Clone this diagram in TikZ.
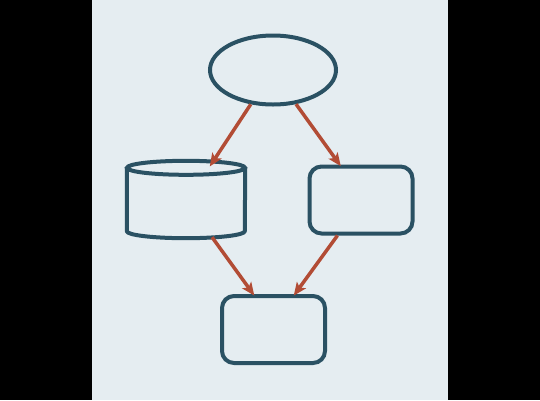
\documentclass[tikz,border=0pt]{standalone}
\usetikzlibrary{arrows.meta,calc,shapes.geometric}
\definecolor{panel}{HTML}{E5EDF1}
\definecolor{stroke}{HTML}{2A5163}
\definecolor{arr}{HTML}{B24C35}
\tikzset{
  shp/.style={draw=stroke, line width=4pt, fill=panel},
  rbox/.style={shp, rectangle, rounded corners=12pt, minimum width=103pt, minimum height=67pt, inner sep=0pt},
  conn/.style={draw=arr, line width=3.5pt, -{Stealth[length=13pt,width=11pt,inset=3pt]}, shorten >=-2pt}
}
\begin{document}
\begin{tikzpicture}[x=1pt,y=-1pt]
\fill[black] (0,0) rectangle (540,400);
\fill[panel] (92,0) rectangle (448,400);
\useasboundingbox (0,0) rectangle (540,400);
% ellipse
\node[shp, ellipse, inner sep=0pt, minimum width=126pt, minimum height=69pt] (e) at (273,70) {};
% cylinder
\node[inner sep=0pt, minimum width=118pt, minimum height=63pt] (c) at (186,199.5) {};
\draw[shp, line join=round] (c.north west) -- (c.south west) arc[start angle=180, end angle=360, x radius=59pt, y radius=7pt] -- (c.north east);
\draw[shp] (c.north) ellipse [x radius=59pt, y radius=7pt];
% boxes
\node[rbox] (r) at (361,200) {};
\node[rbox] (b) at (273.5,329.5) {};
% connectors
\draw[conn] (e.237) -- ($(c.north west)!0.71!(c.north east)+(0,-3)$);
\draw[conn] (e.304) -- ($(r.north west)!0.30!(r.north east)$);
\draw[conn] ($(c.south west)!0.72!(c.south east)+(0,6)$) -- ($(b.north west)!0.31!(b.north east)$);
\draw[conn] ($(r.south west)!0.28!(r.south east)$) -- ($(b.north west)!0.70!(b.north east)$);
\end{tikzpicture}
\end{document}
